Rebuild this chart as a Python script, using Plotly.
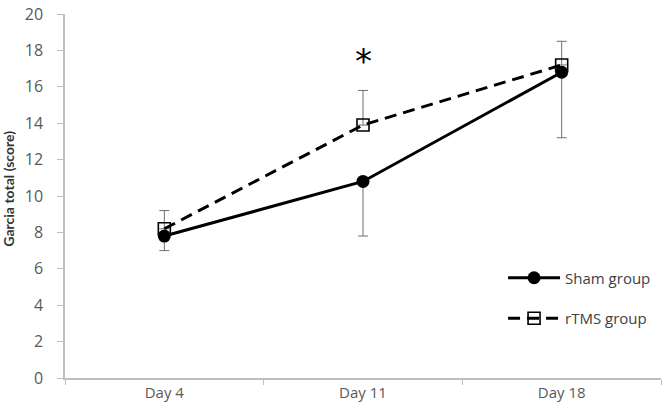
import plotly.graph_objects as go

days = ["Day 4", "Day 11", "Day 18"]
sham = [7.8, 10.8, 16.8]
sham_err_minus = [0.8, 3.0, 3.6]
rtms = [8.2, 13.9, 17.2]
rtms_err_plus = [1.0, 1.9, 1.3]
y_ticks = [0, 2, 4, 6, 8, 10, 12, 14, 16, 18, 20]

fig = go.Figure()
fig.add_trace(go.Scatter(
    x=days, y=rtms, name="rTMS group", mode="lines+markers",
    line=dict(color="black", width=3, dash="12px,7px"),
    marker=dict(symbol="square-open", size=12, color="black", line=dict(width=1.6)),
    error_y=dict(type="data", symmetric=False, array=rtms_err_plus,
                 arrayminus=[0, 0, 0], color="#6f6f6f", thickness=1, width=5),
    legendgroup="b", legendrank=2,
))
fig.add_trace(go.Scatter(
    x=days, y=sham, name="Sham group", mode="lines+markers",
    line=dict(color="black", width=3),
    marker=dict(symbol="circle", size=13, color="black"),
    error_y=dict(type="data", symmetric=False, array=[0, 0, 0],
                 arrayminus=sham_err_minus, color="#6f6f6f", thickness=1, width=5),
    legendgroup="a", legendrank=1,
))

fig.add_annotation(x="Day 11", y=17.4, text="*", showarrow=False,
                   font=dict(size=34, color="black", family="DejaVu Sans"))
fig.add_annotation(xref="paper", yref="paper", x=-0.094, y=0.52,
                   xanchor="center", yanchor="middle",
                   text="<b>Garcia total (score)</b>", textangle=-90, showarrow=False,
                   font=dict(family="Lato", size=14, color="#333333"))

fig.update_layout(
    width=664, height=411,
    margin=dict(l=65, r=3, t=14, b=33),
    paper_bgcolor="white", plot_bgcolor="white",
    font=dict(family="Open Sans", size=15, color="#595959"),
    showlegend=True,
    legend=dict(x=0.735, y=0.32, xanchor="left", yanchor="top",
                traceorder="grouped", tracegroupgap=18, itemwidth=52,
                font=dict(size=15, color="#404040"), bgcolor="rgba(0,0,0,0)"),
    xaxis=dict(type="category", range=[-0.5, 2.5], showline=True, linecolor="#bfbfbf",
               linewidth=1.5, ticks="outside", tickson="boundaries", ticklen=5,
               tickcolor="#bfbfbf", showgrid=False, zeroline=False),
    yaxis=dict(range=[0, 20], tickvals=y_ticks, showline=True, linecolor="#bfbfbf",
               linewidth=1.5, ticks="outside", ticklen=6, tickcolor="#bfbfbf",
               ticklabelstandoff=11, tickfont=dict(size=16),
               showgrid=False, zeroline=False),
)

fig.write_html("out.html")
